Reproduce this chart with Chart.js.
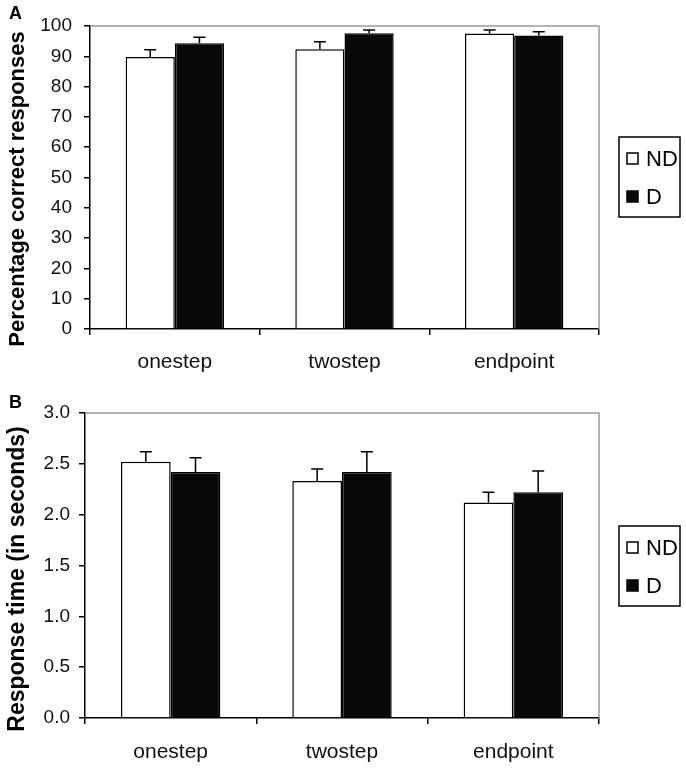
<!DOCTYPE html>
<html>
<head>
<meta charset="utf-8">
<script src="https://cdn.jsdelivr.net/npm/chart.js@4"></script>
<style>
  html, body { margin: 0; padding: 0; background: #ffffff; }
  #wrap { position: relative; width: 686px; height: 770px; }
  .panel { position: absolute; left: 0; width: 686px; height: 385px; }
</style>
</head>
<body>
<div id="wrap">
  <div class="panel" style="top:0"><canvas id="chartA" width="686" height="385"></canvas></div>
  <div class="panel" style="top:385px"><canvas id="chartB" width="686" height="385"></canvas></div>
</div>
<script>
// ---- data ----
const categories = ['onestep', 'twostep', 'endpoint'];
const seriesNames = ['ND', 'D'];

const pctND = [89.8, 92.3, 97.5];
const pctD = [94.3, 97.6, 96.9];
const pctErrND = [2.4, 2.5, 1.2];
const pctErrD = [2.0, 1.1, 1.2];
const pctTicks = [0, 10, 20, 30, 40, 50, 60, 70, 80, 90, 100];

const rtND = [2.52, 2.33, 2.12];
const rtD = [2.42, 2.42, 2.22];
const rtErrND = [0.10, 0.12, 0.10];
const rtErrD = [0.14, 0.20, 0.21];
const rtTicks = ['0.0', '0.5', '1.0', '1.5', '2.0', '2.5', '3.0'];

const titleA = 'Percentage correct responses';
const titleB = 'Response time (in seconds)';

Chart.defaults.animation = false;
Chart.defaults.color = '#000';

// error bars + frame + titles + legend plugin
const decorPlugin = {
  id: 'decor',
  beforeDatasetsDraw(chart) {
    const a = chart.chartArea, ctx = chart.ctx;
    ctx.save();
    ctx.strokeStyle = '#9a9a9a';
    ctx.lineWidth = 1.5;
    ctx.beginPath();
    ctx.moveTo(a.left, a.top);
    ctx.lineTo(a.right, a.top);
    ctx.lineTo(a.right, a.bottom);
    ctx.stroke();
    ctx.restore();
  },
  afterDatasetsDraw(chart) {
    const o = chart.options.plugins.decor;
    const ctx = chart.ctx, y = chart.scales.y;
    ctx.save();
    ctx.strokeStyle = '#000';
    ctx.lineWidth = 1.5;
    chart.data.datasets.forEach((ds, di) => {
      const meta = chart.getDatasetMeta(di);
      meta.data.forEach((bar, i) => {
        const top = y.getPixelForValue(ds.data[i]);
        const cap = y.getPixelForValue(ds.data[i] + o.errors[di][i]);
        ctx.beginPath();
        ctx.moveTo(bar.x, top);
        ctx.lineTo(bar.x, cap);
        ctx.moveTo(bar.x - 6, cap);
        ctx.lineTo(bar.x + 6, cap);
        ctx.stroke();
      });
    });
    ctx.restore();
  },
  afterDraw(chart) {
    const o = chart.options.plugins.decor;
    const ctx = chart.ctx;
    ctx.save();
    // panel letter
    ctx.fillStyle = '#000';
    ctx.font = 'bold 18px "Liberation Sans", Arial, sans-serif';
    ctx.textAlign = 'left';
    ctx.textBaseline = 'top';
    ctx.fillText(o.letter, 9, o.letterY);
    // axis title
    ctx.translate(o.titleX, o.titleY);
    ctx.rotate(-Math.PI / 2);
    ctx.font = 'bold ' + o.titleSize + 'px "Liberation Sans", Arial, sans-serif';
    ctx.textAlign = 'center';
    ctx.textBaseline = 'middle';
    ctx.fillText(o.title, 0, 0);
    ctx.restore();
    // legend
    ctx.save();
    const L = o.legend;
    ctx.fillStyle = '#fff';
    ctx.fillRect(L.x, L.y, L.w, L.h);
    ctx.strokeStyle = '#000';
    ctx.lineWidth = 1.5;
    ctx.strokeRect(L.x, L.y, L.w, L.h);
    ctx.font = '22px "Liberation Sans Narrow", "Liberation Sans", Arial, sans-serif';
    ctx.textAlign = 'left';
    ctx.textBaseline = 'middle';
    chart.data.datasets.forEach((ds, di) => {
      const cy = L.rows[di];
      ctx.fillStyle = ds.backgroundColor;
      ctx.fillRect(L.x + 8, cy - 6, 11, 11);
      ctx.strokeStyle = '#000';
      ctx.lineWidth = 1.5;
      ctx.strokeRect(L.x + 8, cy - 6, 11, 11);
      ctx.fillStyle = '#000';
      ctx.fillText(ds.label, L.x + 27, cy + 1);
    });
    ctx.restore();
  }
};

function makeChart(id, nd, d, errNd, errD, yCfg, decor, geo) {
  return new Chart(document.getElementById(id), {
    type: 'bar',
    data: {
      labels: categories,
      datasets: [
        { label: seriesNames[0], data: nd, backgroundColor: '#ffffff', borderColor: '#000', borderWidth: 1.5 },
        { label: seriesNames[1], data: d, backgroundColor: '#080808', borderColor: '#000', borderWidth: 1.5 }
      ]
    },
    options: {
      responsive: false,
      devicePixelRatio: 1,
      layout: { padding: { top: geo.top, right: 87, left: 0, bottom: 0 } },
      datasets: { bar: { categoryPercentage: 0.58, barPercentage: 1.0 } },
      plugins: { legend: { display: false }, tooltip: { enabled: false }, decor: decor },
      scales: {
        x: {
          afterFit: s => { s.height = geo.xh; },
          grid: { offset: true, drawOnChartArea: false, drawTicks: true, tickLength: 6, color: '#000', lineWidth: 1.5 },
          border: { display: true, color: '#000', width: 1.5 },
          ticks: { padding: geo.xpad, color: '#111', font: { family: '"Liberation Sans", Arial, sans-serif', size: 21 } }
        },
        y: Object.assign({
          afterFit: s => { s.width = geo.left; },
          grid: { drawOnChartArea: false, drawTicks: true, tickLength: 6, color: '#000', lineWidth: 1.5 },
          border: { display: true, color: '#000', width: 1.5 }
        }, yCfg)
      }
    },
    plugins: [decorPlugin]
  });
}

makeChart('chartA', pctND, pctD, pctErrND, pctErrD, {
  min: 0, max: 100,
  afterBuildTicks: s => { s.ticks = pctTicks.map(v => ({ value: v })); },
  ticks: { padding: 12, color: '#111', font: { family: '"Liberation Sans Narrow", "Liberation Sans", Arial, sans-serif', size: 19 } }
}, {
  errors: [pctErrND, pctErrD], letter: 'A', letterY: 5,
  title: titleA, titleX: 18, titleY: 189, titleSize: 22,
  legend: { x: 619, y: 137, w: 61, h: 80, rows: [159, 197] }
}, { top: 26, left: 90, xh: 56, xpad: 15 });

makeChart('chartB', rtND, rtD, rtErrND, rtErrD, {
  min: 0, max: 3,
  afterBuildTicks: s => { s.ticks = rtTicks.map(v => ({ value: parseFloat(v) })); },
  ticks: { padding: 9, color: '#111', callback: (v) => rtTicks.find(t => parseFloat(t) === v),
           font: { family: '"Liberation Sans", Arial, sans-serif', size: 19 } }
}, {
  errors: [rtErrND, rtErrD], letter: 'B', letterY: 9,
  title: titleB, titleX: 18, titleY: 194, titleSize: 23,
  legend: { x: 619, y: 141, w: 61, h: 80, rows: [163, 201] }
}, { top: 28, left: 85, xh: 52, xpad: 16 });
</script>
</body>
</html>
